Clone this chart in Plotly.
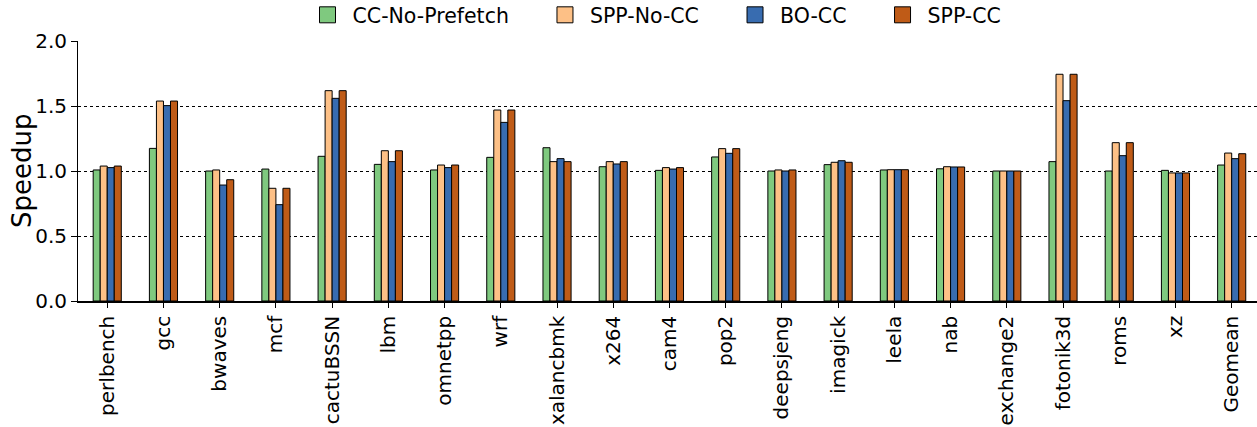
import plotly.graph_objects as go

categories = ["perlbench", "gcc", "bwaves", "mcf", "cactuBSSN", "lbm", "omnetpp", "wrf",
              "xalancbmk", "x264", "cam4", "pop2", "deepsjeng", "imagick", "leela", "nab",
              "exchange2", "fotonik3d", "roms", "xz", "Geomean"]

cc_no_prefetch = [1.008, 1.174, 1.000, 1.015, 1.113, 1.051, 1.008, 1.105, 1.179, 1.033, 1.005,
                  1.108, 1.000, 1.049, 1.008, 1.017, 1.000, 1.072, 1.000, 1.005, 1.046]
spp_no_cc = [1.038, 1.538, 1.008, 0.867, 1.618, 1.156, 1.046, 1.469, 1.072, 1.072, 1.026,
             1.172, 1.008, 1.067, 1.010, 1.033, 1.000, 1.744, 1.218, 0.985, 1.138]
bo_cc = [1.026, 1.503, 0.892, 0.741, 1.559, 1.072, 1.026, 1.374, 1.095, 1.054, 1.015,
         1.136, 1.000, 1.079, 1.010, 1.031, 1.000, 1.541, 1.118, 0.985, 1.095]
spp_cc = [1.038, 1.538, 0.933, 0.867, 1.618, 1.156, 1.046, 1.469, 1.072, 1.072, 1.026,
          1.172, 1.008, 1.067, 1.010, 1.031, 1.000, 1.744, 1.218, 0.985, 1.133]

series = [
    ("CC-No-Prefetch", cc_no_prefetch, "#7fc97f"),
    ("SPP-No-CC", spp_no_cc, "#fdc086"),
    ("BO-CC", bo_cc, "#386cb0"),
    ("SPP-CC", spp_cc, "#bf5b17"),
]

fig = go.Figure()
for name, vals, color in series:
    fig.add_trace(go.Bar(
        x=categories, y=vals, name=name, showlegend=False,
        marker=dict(color=color, line=dict(color="black", width=1)),
    ))
# legend entries (larger square patches)
pad = "\u00a0" * 4
for name, vals, color in series:
    fig.add_trace(go.Scatter(
        x=[None], y=[None], mode="markers", name=name + pad,
        marker=dict(symbol="square", size=20, color=color, line=dict(color="black", width=1)),
    ))

font_family = "DejaVu Sans"
fig.update_layout(
    width=1257, height=427,
    margin=dict(l=78, r=0, t=41, b=126, autoexpand=False),
    paper_bgcolor="white", plot_bgcolor="white",
    barmode="group", bargap=0.5, bargroupgap=0,
    font=dict(family=font_family, size=20, color="black"),
    legend=dict(orientation="h", x=0.5, xanchor="center",
                yref="container", y=1 - 15 / 427, yanchor="middle",
                font=dict(size=20.5), traceorder="normal", itemwidth=40,
                itemsizing="trace"),
    showlegend=True,
    annotations=[dict(text="Speedup", textangle=-90, xref="paper", yref="paper",
                      x=(22 - 78) / 1179, y=0.5, xanchor="center", yanchor="middle",
                      showarrow=False, font=dict(size=26))],
)
fig.update_xaxes(
    type="category", range=[-0.52, 20.45], automargin=False,
    tickangle=-90, tickfont=dict(size=20),
    ticks="outside", ticklen=5, tickcolor="black",
    showline=True, linecolor="black", linewidth=1.5,
    showgrid=False,
)
fig.update_yaxes(
    range=[0, 2.0], tickvals=[0, 0.5, 1.0, 1.5, 2.0], automargin=False,
    ticktext=["0.0", "0.5", "1.0", "1.5", "2.0"],
    tickfont=dict(size=20),
    ticks="outside", ticklen=6, tickcolor="black",
    showline=True, linecolor="black", linewidth=1,
    showgrid=True, gridcolor="black", gridwidth=1, griddash="dot",
    zeroline=False,
)
fig.write_html("out.html",
               config={"displayModeBar": False},
               post_script="document.body.style.margin='0';document.body.style.overflow='hidden';")
